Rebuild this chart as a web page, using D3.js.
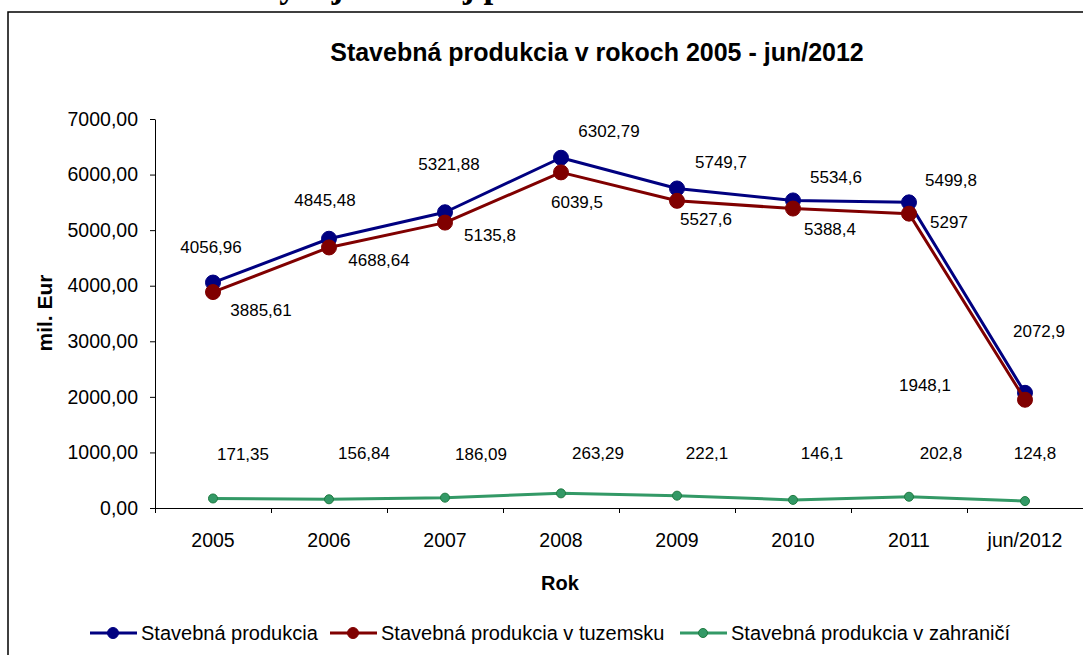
<!DOCTYPE html>
<html>
<head>
  <meta charset="UTF-8">
  <title>Stavebná produkcia v rokoch 2005 - jun/2012</title>
  <script src="https://d3js.org/d3.v7.min.js"></script>
  <style>
    body { margin: 0; background: #fff; }
    text { font-family: "Liberation Sans", Arial, sans-serif; fill: #000; }
  </style>
</head>
<body>
  <div id="chart"></div>

  <script>
    // data
    const years = ["2005", "2006", "2007", "2008", "2009", "2010", "2011", "jun/2012"];
    const spolu = [4056.96, 4845.48, 5321.88, 6302.79, 5749.7, 5534.6, 5499.8, 2072.9];
    const tuzemsko = [3885.61, 4688.64, 5135.8, 6039.5, 5527.6, 5388.4, 5297, 1948.1];
    const zahranicie = [171.35, 156.84, 186.09, 263.29, 222.1, 146.1, 202.8, 124.8];
    const labelText = {
      spolu: ["4056,96", "4845,48", "5321,88", "6302,79", "5749,7", "5534,6", "5499,8", "2072,9"],
      tuzemsko: ["3885,61", "4688,64", "5135,8", "6039,5", "5527,6", "5388,4", "5297", "1948,1"],
      zahranicie: ["171,35", "156,84", "186,09", "263,29", "222,1", "146,1", "202,8", "124,8"]
    };
    const yTicks = [0, 1000, 2000, 3000, 4000, 5000, 6000, 7000];

    // label nudges (px) so labels sit where Excel put them
    const nudge = {
      spolu: [[-2, -36], [-4, -39], [4, -48], [48, -27], [44, -27], [43, -24], [42, -22], [14, -62]],
      tuzemsko: [[48, 18], [50, 12], [45, 12], [16, 30], [29, 18], [37, 20], [40, 8], [-100, -15]],
      zahranicie: [[30, -45], [35, -46], [36, -44], [37, -40], [30, -43], [29, -47], [32, -44], [10, -48]]
    };

    const W = 1083, H = 655;
    const plotL = 155, plotR = 1083, plotT = 119, plotB = 508;

    const svg = d3.select("#chart").append("svg")
      .attr("width", W).attr("height", H);

    // cropped heading from the document above the chart
    svg.append("text")
      .attr("x", 254).attr("y", -3)
      .style("font-family", "'Liberation Serif', 'Times New Roman', serif")
      .style("font-weight", "bold")
      .style("font-size", "35px")
      .text("Vývoj celkovej produkcie");

    // chart frame (runs off the right and bottom edge)
    svg.append("rect")
      .attr("x", 8).attr("y", 12)
      .attr("width", 1200).attr("height", 800)
      .attr("fill", "#fff")
      .attr("stroke", "#000").attr("stroke-width", 1.5);

    const x = d3.scaleBand().domain(years).range([plotL, plotR]);
    const xEdge = d3.scaleLinear().domain([0, years.length]).range([plotL, plotR]);
    const y = d3.scaleLinear().domain([0, 7000]).range([plotB, plotT]);

    // y axis
    const gy = svg.append("g")
      .attr("transform", "translate(" + plotL + ",0)")
      .call(d3.axisLeft(y).tickValues(yTicks).tickSize(5).tickSizeOuter(0).tickPadding(12)
        .tickFormat(d => d.toFixed(2).replace(".", ",")));
    gy.selectAll("text").style("font-size", "19.5px").style("font-family", "'Liberation Sans', Arial, sans-serif");

    // x axis: ticks between categories, labels centred
    svg.append("g")
      .attr("transform", "translate(0," + plotB + ")")
      .call(d3.axisBottom(xEdge).ticks(years.length).tickSize(5).tickSizeOuter(0).tickFormat(""));
    const gx = svg.append("g")
      .attr("transform", "translate(0," + plotB + ")")
      .call(d3.axisBottom(x).tickSize(0).tickPadding(25));
    gx.select(".domain").remove();
    gx.selectAll("text").style("font-size", "19.5px").style("font-family", "'Liberation Sans', Arial, sans-serif");

    svg.selectAll(".domain, .tick line").attr("stroke", "#000");

    // titles
    svg.append("text")
      .attr("x", 597).attr("y", 61)
      .attr("text-anchor", "middle")
      .style("font-weight", "bold").style("font-size", "25px")
      .text("Stavebná produkcia v rokoch 2005 - jun/2012");

    svg.append("text")
      .attr("x", 560).attr("y", 590)
      .attr("text-anchor", "middle")
      .style("font-weight", "bold").style("font-size", "20px")
      .text("Rok");

    svg.append("text")
      .attr("transform", "translate(52,313) rotate(-90)")
      .attr("text-anchor", "middle")
      .style("font-weight", "bold").style("font-size", "21px")
      .text("mil. Eur");

    const series = [
      { key: "spolu", name: "Stavebná produkcia", values: spolu, color: "#000080", r: 7.5, stroke: "#000080", lx: 90 },
      { key: "tuzemsko", name: "Stavebná produkcia v tuzemsku", values: tuzemsko, color: "#800000", r: 7.5, stroke: "#800000", lx: 330 },
      { key: "zahranicie", name: "Stavebná produkcia v zahraničí", values: zahranicie, color: "#339966", r: 4.5, stroke: "#1f7a40", lx: 680 }
    ];

    const line = d3.line()
      .x((d, i) => x(years[i]) + x.bandwidth() / 2)
      .y(d => y(d));

    series.forEach(s => {
      const g = svg.append("g");
      g.append("path")
        .datum(s.values)
        .attr("d", line)
        .attr("fill", "none")
        .attr("stroke", s.color)
        .attr("stroke-width", 3)
        .attr("stroke-linejoin", "round");
      g.selectAll("circle")
        .data(s.values)
        .join("circle")
        .attr("cx", (d, i) => x(years[i]) + x.bandwidth() / 2)
        .attr("cy", d => y(d))
        .attr("r", s.r)
        .attr("fill", s.color)
        .attr("stroke", s.stroke)
        .attr("stroke-width", 1);
    });

    // data labels
    series.forEach(s => {
      svg.append("g").selectAll("text")
        .data(s.values)
        .join("text")
        .attr("x", (d, i) => x(years[i]) + x.bandwidth() / 2 + nudge[s.key][i][0])
        .attr("y", (d, i) => y(d) + nudge[s.key][i][1])
        .attr("dy", "0.36em")
        .attr("text-anchor", "middle")
        .style("font-size", "17px")
        .text((d, i) => labelText[s.key][i]);
    });

    // legend
    const lg = svg.append("g");
    series.forEach(s => {
      lg.append("line")
        .attr("x1", s.lx).attr("x2", s.lx + 47)
        .attr("y1", 633).attr("y2", 633)
        .attr("stroke", s.color).attr("stroke-width", 3);
      lg.append("circle")
        .attr("cx", s.lx + 23).attr("cy", 633)
        .attr("r", s.key === "zahranicie" ? 4.5 : 5.5)
        .attr("fill", s.color).attr("stroke", s.stroke);
      lg.append("text")
        .attr("x", s.lx + 51).attr("y", 640)
        .style("font-size", "20px")
        .text(s.name);
    });
  </script>
</body>
</html>
